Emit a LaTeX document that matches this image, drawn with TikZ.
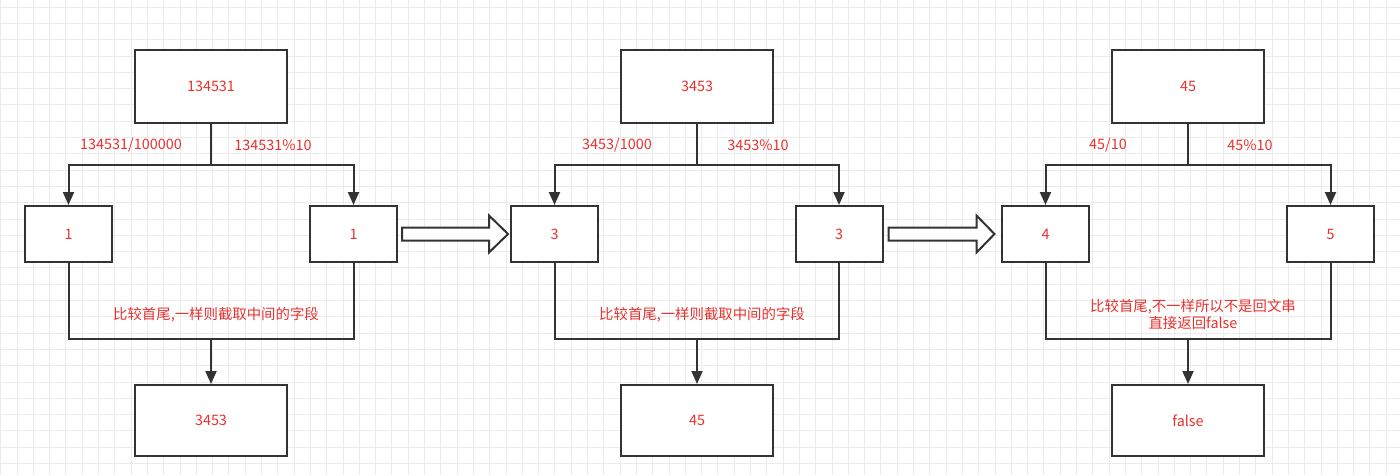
\documentclass[tikz,border=0pt]{standalone}
\usepackage{fontspec}
\newfontfamily\cjk{Noto Sans CJK SC}
\usetikzlibrary{arrows.meta,calc}
\definecolor{linec}{HTML}{333333}
\definecolor{txtc}{HTML}{E8322E}
\definecolor{gridc}{HTML}{EBEBEB}
\tikzset{
  box/.style={draw=linec, line width=2pt, fill=white, font=\cjk\fontsize{14.4}{17}\selectfont, text=txtc, inner sep=0pt},
  bigbox/.style={box, minimum width=152pt, minimum height=73pt},
  lowbox/.style={box, minimum width=152pt, minimum height=71pt},
  smallbox/.style={box, minimum width=87pt, minimum height=56pt},
  conn/.style={draw=linec, line width=2pt},
  arr/.style={conn, -{Triangle[length=13pt,width=11pt]}},
  lbl/.style={font=\cjk\fontsize{14.4}{17}\selectfont, text=txtc, inner sep=0pt, align=center},
  blockarr/.style={draw=linec, line width=2pt, fill=white, line join=miter},
  gridline/.style={draw=gridc, line width=0.8pt}
}
\begin{document}
\begin{tikzpicture}[x=1pt,y=-1pt]
\useasboundingbox (0,0) rectangle (1400,475);
\fill[white] (0,0) rectangle (1400,475);
\foreach \i in {0,...,86} {\draw[gridline] ({0.6+\i*16.3},0) -- ({0.6+\i*16.3},475);}
\foreach \j in {0,...,29} {\draw[gridline] (0,{7+\j*16.3}) -- (1400,{7+\j*16.3});}

% group 1
\node[bigbox] (t1) at (211,86.5) {134531};
\node[smallbox] (l1) at (68.5,234) {1};
\node[smallbox] (r1) at (353.5,234) {1};
\node[lowbox] (b1) at (211,420.5) {3453};
\draw[arr] (t1.south) -- ++(0,41) -| (l1.north);
\draw[arr] (t1.south) -- ++(0,41) -| (r1.north);
\node[lbl] (d1) at (131,145.5) {134531/100000};
\node[lbl] (m1) at (273,145.5) {134531\%10};
\coordinate (j1) at (211,339);
\draw[conn] (l1.south) |- (j1) -| (r1.south);
\draw[arr] (j1) -- (b1.north);
\node[lbl] (c1) at (216,315) {比较首尾,一样则截取中间的字段};

% group 2
\node[bigbox] (t2) at (697,86.5) {3453};
\node[smallbox] (l2) at (554.5,234) {3};
\node[smallbox] (r2) at (839,234) {3};
\node[lowbox] (b2) at (697,420.5) {45};
\draw[arr] (t2.south) -- ++(0,41) -| (l2.north);
\draw[arr] (t2.south) -- ++(0,41) -| (r2.north);
\node[lbl] (d2) at (617,145.5) {3453/1000};
\node[lbl] (m2) at (758,145.5) {3453\%10};
\coordinate (j2) at (697,339);
\draw[conn] (l2.south) |- (j2) -| (r2.south);
\draw[arr] (j2) -- (b2.north);
\node[lbl] (c2) at (702,315) {比较首尾,一样则截取中间的字段};

% group 3
\node[bigbox] (t3) at (1188,86.5) {45};
\node[smallbox] (l3) at (1045.5,234) {4};
\node[smallbox] (r3) at (1330.5,234) {5};
\node[lowbox] (b3) at (1188,420.5) {false};
\draw[arr] (t3.south) -- ++(0,41) -| (l3.north);
\draw[arr] (t3.south) -- ++(0,41) -| (r3.north);
\node[lbl] (d3) at (1108,145.5) {45/10};
\node[lbl] (m3) at (1250,145.5) {45\%10};
\coordinate (j3) at (1188,339);
\draw[conn] (l3.south) |- (j3) -| (r3.south);
\draw[arr] (j3) -- (b3.north);
\node[lbl] (c3) at (1193,314.5) {比较首尾,不一样所以不是回文串\\直接返回false};

% block arrows
\coordinate (a1) at ($(r1.east)+(4,-6.5)$);
\draw[blockarr] (a1) -- ++(87,0) -- ++(0,-12) -- ++(19,18.5) -- ++(-19,18.5) -- ++(0,-12) -- ++(-87,0) -- cycle;
\coordinate (a2) at ($(r2.east)+(5,-6.5)$);
\draw[blockarr] (a2) -- ++(88,0) -- ++(0,-12) -- ++(18,18.5) -- ++(-18,18.5) -- ++(0,-12) -- ++(-88,0) -- cycle;
\end{tikzpicture}
\end{document}
